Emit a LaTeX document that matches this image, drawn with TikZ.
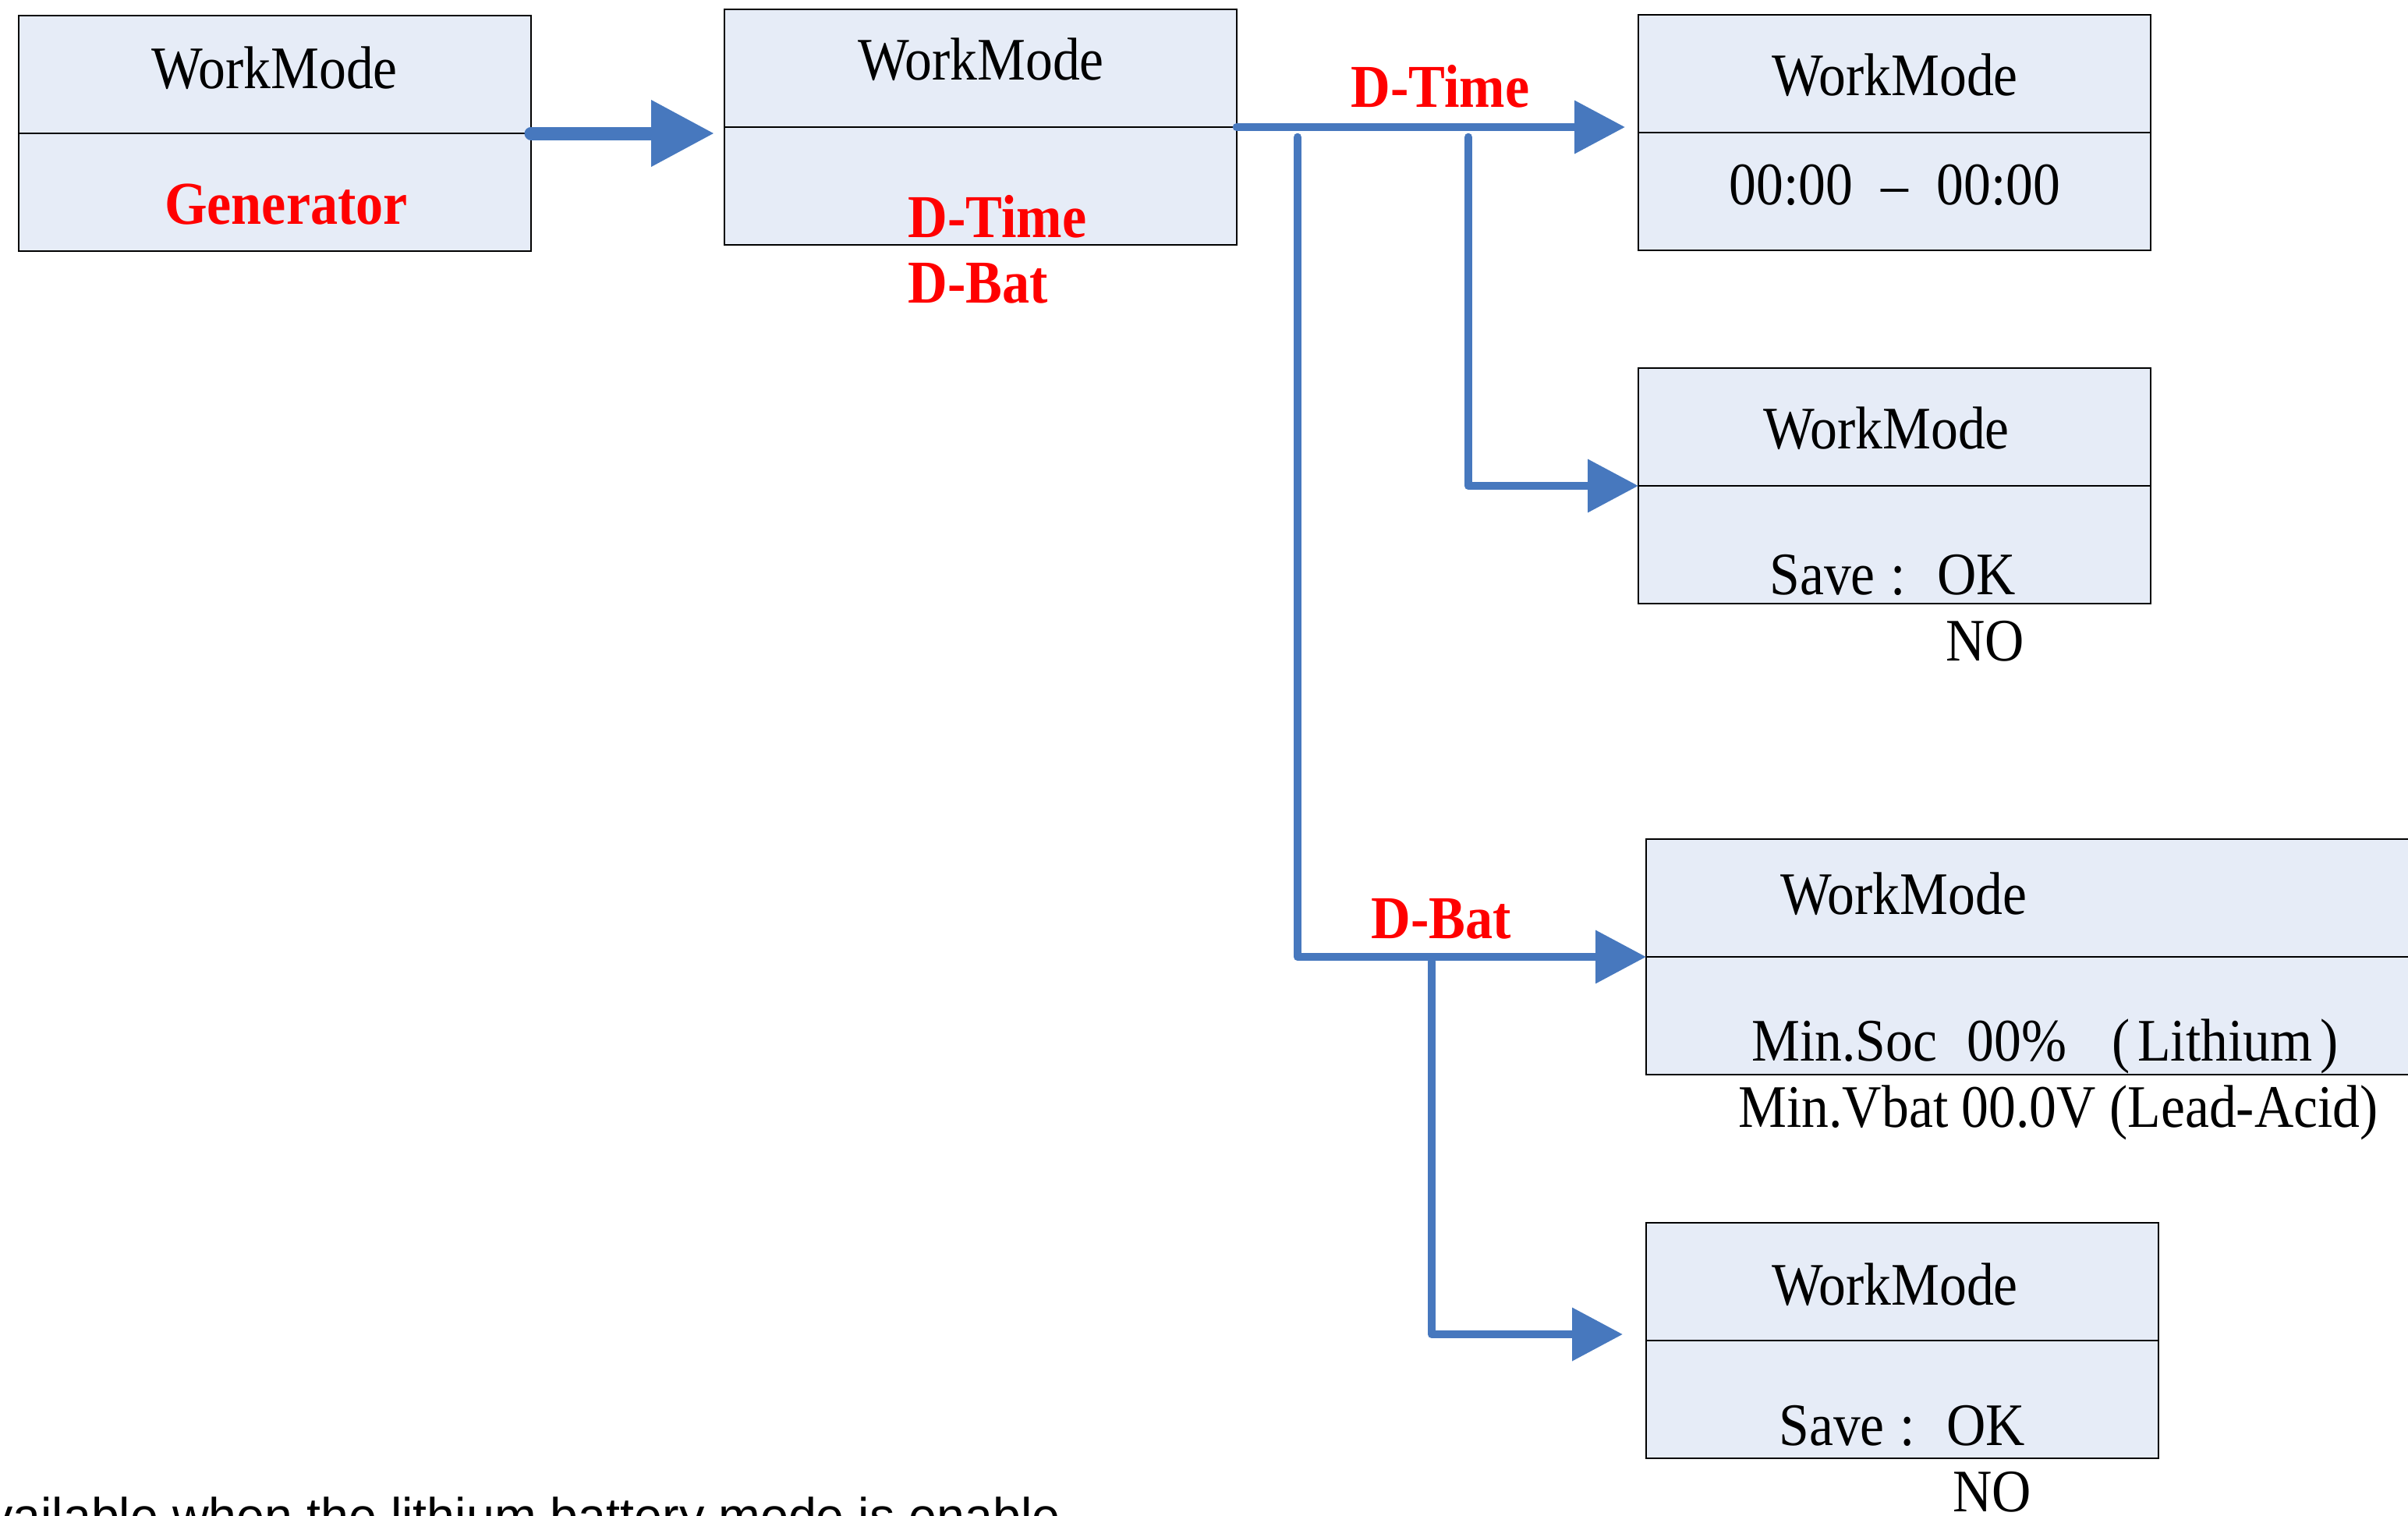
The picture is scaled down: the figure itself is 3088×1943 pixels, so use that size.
\documentclass[tikz,border=0pt]{standalone}
\usepackage{fontspec}
\setmainfont{Liberation Serif}[FakeStretch=0.9]
\newfontfamily\arialfont{Liberation Sans}
\usetikzlibrary{arrows.meta}
\definecolor{flowblue}{RGB}{71,120,190}
\definecolor{boxfill}{RGB}{230,236,247}
\definecolor{lblred}{RGB}{255,0,0}
\begin{document}
\begin{tikzpicture}[x=0.5pt,y=-0.5pt,
  half/.style={draw=black, fill=boxfill, line width=1.3pt, inner sep=0pt, outer sep=0pt,
    anchor=north west, minimum width=328.5pt, minimum height=75.5pt},
  widehalf/.style={half, minimum width=505pt},
  txt/.style={font=\fontsize{38.7}{46}\selectfont, inner sep=0pt, anchor=base},
  txtw/.style={txt, anchor=base west},
  redlbl/.style={font=\fontsize{39}{46}\selectfont\bfseries, text=lblred, inner sep=0pt, anchor=base},
  redlblw/.style={redlbl, anchor=base west},
  bigflow/.style={draw=flowblue, line width=8.5pt, line cap=round,
    -{Triangle[length=40.5pt, width=40.5pt]}},
  flow/.style={draw=flowblue, line width=5.3pt, line cap=round, line join=round,
    -{Triangle[length=32.5pt, width=33pt]}}
]
\useasboundingbox (0,0) rectangle (3088,1943);
\clip (0,0) rectangle (3088,1943);

% boxes
\node[half] (b1t) at (24,20) {};
\node[half] (b1b) at (24,171) {};
\node[half] (b2t) at (929,12) {};
\node[half] (b2b) at (929,163) {};
\node[half] (b3t) at (2101,19) {};
\node[half] (b3b) at (2101,170) {};
\node[half] (b4t) at (2101,472) {};
\node[half] (b4b) at (2101,623) {};
\node[widehalf] (b5t) at (2111,1076) {};
\node[widehalf] (b5b) at (2111,1227) {};
\node[half] (b6t) at (2111,1568) {};
\node[half] (b6b) at (2111,1719) {};

% texts
\node[txt] (w1) at (352,113) {WorkMode};
\node[redlbl] (gen) at (367,287) {Generator};
\node[txt] (w2) at (1258,102) {WorkMode};
\node[redlblw] (dt2) at (1164,304) {D-Time};
\node[redlblw] (db2) at (1164,388) {D-Bat};
\node[redlbl] (dtl) at (1847,137) {D-Time};
\node[txt] (w3) at (2430,122) {WorkMode};
\node[txt] (tm3) at (2430,262) {00:00\hspace{18pt}–\hspace{18pt}00:00};
\node[txt] (w4) at (2419,575) {WorkMode};
\node[txtw] (s4) at (2269,762) {Save\hspace{10pt}:\hspace{20pt}OK};
\node[txtw] (n4) at (2495,847) {NO};
\node[redlbl] (dbl) at (1848,1203) {D-Bat};
\node[txtw] (w5) at (2283,1172) {WorkMode};
\node[txtw] (soc5) at (2246,1360) {Min.Soc\hspace{19pt}00\%\hspace{29pt}(\hspace{5pt}Lithium\hspace{5pt})};
\node[txtw] (vb5) at (2229,1445) {Min.Vbat 00.0V (Lead-Acid)};
\node[txt] (w6) at (2430,1673) {WorkMode};
\node[txtw] (s6) at (2281,1853) {Save\hspace{10pt}:\hspace{20pt}OK};
\node[txtw] (n6) at (2504,1938) {NO};
\node[font=\arialfont\fontsize{32.3}{38}\selectfont, inner sep=0pt, anchor=base east] (note) at (1360,1966) {available when the lithium battery mode is enable};

% connector endpoints
\coordinate (t1) at (916,171);
\coordinate (t2) at (2084,163);
\coordinate (j1) at (1664,176);
\coordinate (j2) at (1883,176);
\coordinate (j3) at (1836,1233);
\coordinate (t6) at (2081,1711);

% connectors
\draw[bigflow] (b1t.south east) -- (t1);
\draw[flow] (b2t.south east) -- (t2);
\draw[flow] (j1) |- (b5t.south west);
\draw[flow] (j2) |- (b4t.south west);
\draw[flow] (j3) |- (t6);
\end{tikzpicture}
\end{document}
